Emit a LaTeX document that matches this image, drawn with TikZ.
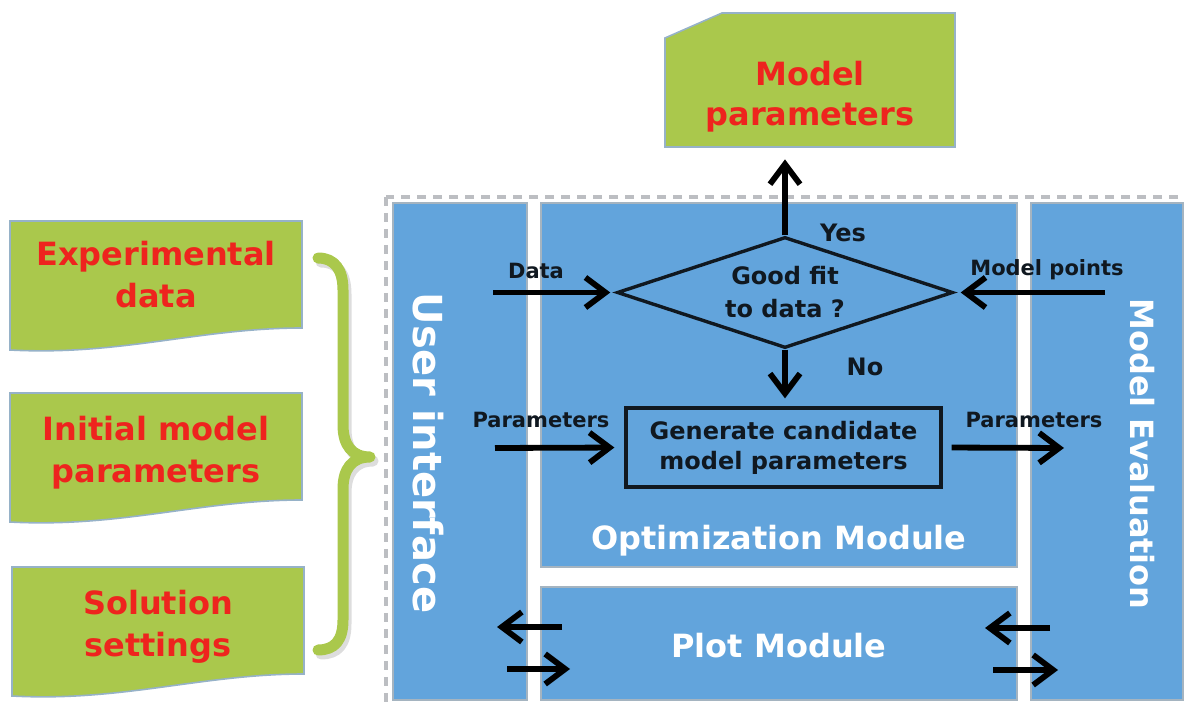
\documentclass[tikz,border=0pt]{standalone}
\usepackage{fontspec}
\setmainfont{DejaVu Sans}
\usetikzlibrary{arrows.meta,shapes.geometric}

\definecolor{modblue}{RGB}{98,164,220}
\definecolor{modedge}{RGB}{165,180,192}
\definecolor{leaf}{RGB}{170,200,76}
\definecolor{leafedge}{RGB}{150,178,200}
\definecolor{alert}{RGB}{238,36,30}
\definecolor{framegray}{RGB}{188,190,194}
\definecolor{ink}{RGB}{16,24,32}

\newcommand\fsz[2]{\fontsize{#1pt}{#2pt}\selectfont}

\begin{document}
\begin{tikzpicture}[x=0.5pt,y=-0.5pt,
  module/.style={fill=modblue,draw=modedge,line width=1pt,inner sep=0pt},
  leafdoc/.style={fill=leaf,draw=leafedge,line width=0.8pt},
  flow/.style={line width=2.9pt,-{Straight Barb[length=10pt,width=15pt]}},
  modlabel/.style={text=white,font=\bfseries\fsz{16}{19},inner sep=0pt},
  doclabel/.style={text=alert,font=\bfseries\fsz{16}{21},align=center,inner sep=0pt},
  flowlabel/.style={text=ink,font=\bfseries\fsz{10.5}{12},inner sep=0pt},
  answer/.style={text=ink,font=\bfseries\fsz{12}{14},inner sep=0pt},
  pics/docsheet/.style={code={
    \draw[leafdoc] (0,0) -- (292,0) -- (292,107)
      .. controls (190,107) and (110,135) .. (0,129) -- cycle;}}
]
\useasboundingbox (0,0) rectangle (1185,705);

% dashed system frame
\draw[framegray,line width=1.8pt,dash pattern=on 4.5pt off 3.5pt]
  (386,197) rectangle (1195,712);

% modules
\node[module,minimum width=67pt,minimum height=248.5pt] (ui) at (460,451.5) {};
\node[module,minimum width=238pt,minimum height=182pt] (opt) at (779,385) {};
\node[module,minimum width=238pt,minimum height=56.5pt] (plot) at (779,643.5) {};
\node[module,minimum width=76pt,minimum height=248.5pt] (eval) at (1107,451.5) {};

\node[modlabel,font=\bfseries\fsz{20}{24},rotate=-90] (uitext) at (428,453) {User interface};
\node[modlabel,rotate=-90] (evaltext) at (1142,454) {Model Evaluation};
\node[modlabel] (opttext) at (779,541) {Optimization Module};
\node[modlabel] (plottext) at (779,646) {Plot Module};

% input documents
\pic at (10,221) {docsheet};
\pic at (10,393) {docsheet};
\pic at (12,567) {docsheet};
\node[doclabel] (expdata) at (156,275) {Experimental\\data};
\node[doclabel] (initpar) at (156,453) {Initial model\\parameters};
\node[doclabel] (solset) at (158,627) {Solution\\settings};

% brace grouping the inputs
\begin{scope}[line cap=round,line join=round]
  \draw[black!22,line width=5.5pt,opacity=0.6,shift={(3,4)}]
    (318,258) .. controls (335,258) and (343,270) .. (343,290) -- (343,425)
    .. controls (343,445) and (352,457) .. (370,457)
    .. controls (352,457) and (343,469) .. (343,489) -- (343,620)
    .. controls (343,640) and (335,650) .. (318,650);
  \draw[leaf,line width=5.5pt]
    (318,258) .. controls (335,258) and (343,270) .. (343,290) -- (343,425)
    .. controls (343,445) and (352,457) .. (370,457)
    .. controls (352,457) and (343,469) .. (343,489) -- (343,620)
    .. controls (343,640) and (335,650) .. (318,650);
\end{scope}

% output document
\draw[leafdoc] (665,38) -- (722,13) -- (955,13) -- (955,147) -- (665,147) -- cycle;
\node[minimum width=145pt,minimum height=67pt,inner sep=0pt] (mp) at (810,80) {};
\node[doclabel,font=\bfseries\fsz{16}{20}] (mptext) at (810,97) {Model\\parameters};

% decision and generation step
\node[diamond,draw=ink,line width=1.7pt,aspect=3,inner sep=0pt,
      minimum width=168pt,minimum height=55.5pt,
      text=ink,font=\bfseries\fsz{12}{16.5},align=center] (d) at (785,292.5)
      {Good fit\\to data ?};
\node[draw=ink,line width=1.6pt,minimum width=157.5pt,minimum height=39.5pt,
      inner sep=0pt,text=ink,font=\bfseries\fsz{12}{15},align=center]
      (gen) at (783.5,447.5) {Generate candidate\\model parameters};

% free ends of the connectors
\coordinate (dataIn) at (493,292.5);
\coordinate (pointsIn) at (1105,292.5);
\coordinate (parIn) at (495,448);
\coordinate (parOut) at (1064,448);
\coordinate (plA) at (562,627);
\coordinate (plB) at (497,627);
\coordinate (plC) at (507,669);
\coordinate (plD) at (570,669);
\coordinate (prA) at (1050,628);
\coordinate (prB) at (985,628);
\coordinate (prC) at (993,670);
\coordinate (prD) at (1058,670);

% connectors
\draw[flow,shorten >=2.5pt] (dataIn) -- (d.west);
\draw[flow,shorten >=3pt] (pointsIn) -- (d.east);
\draw[flow,shorten >=6pt] (d.north) -- (d.north |- mp.south);
\draw[flow,shorten >=4pt] (d.south) -- (d.south |- gen.north);
\draw[flow,shorten >=5pt] (parIn) -- (gen.west);
\draw[flow,shorten <=4.5pt] (gen.east) -- (parOut);
\draw[flow] (plA) -- (plB);
\draw[flow] (plC) -- (plD);
\draw[flow] (prA) -- (prB);
\draw[flow] (prC) -- (prD);

% connector labels
\node[flowlabel] (ldata) at (536,271) {Data};
\node[flowlabel] (lpoints) at (1047,270) {Model points};
\node[flowlabel] (lparin) at (541,420) {Parameters};
\node[flowlabel] (lparout) at (1034,420) {Parameters};
\node[answer] (lyes) at (843,233) {Yes};
\node[answer] (lno) at (865,367) {No};
\end{tikzpicture}
\end{document}
